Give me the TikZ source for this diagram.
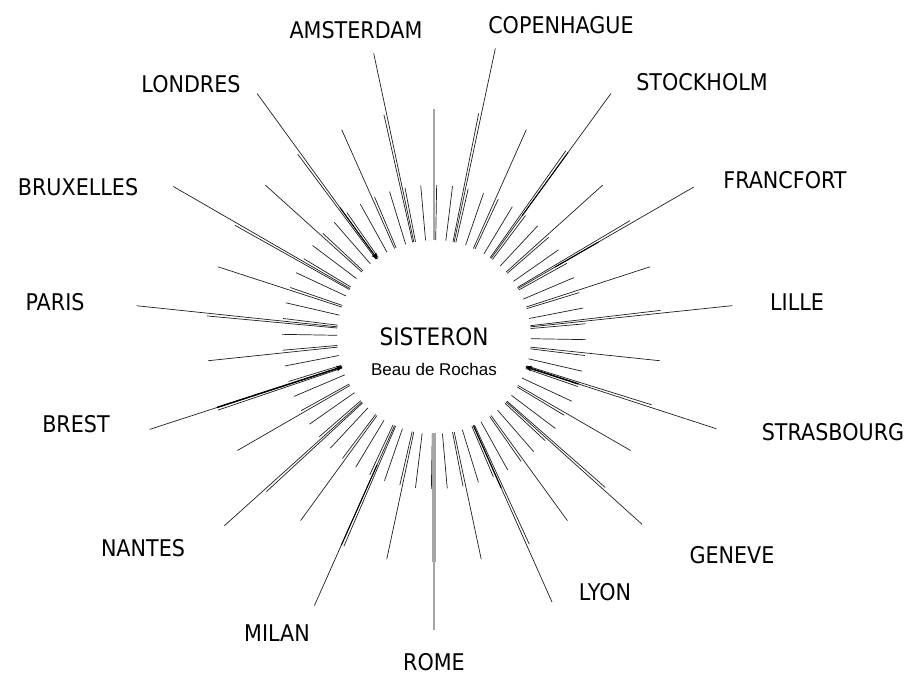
\documentclass[tikz,border=0pt]{standalone}
\usepackage{fontspec}
\setmainfont{DejaVu Sans}
\newfontfamily\townfont[FakeStretch=0.9]{DejaVu Sans}
\newfontfamily\plainfont{Liberation Sans}
\usetikzlibrary{positioning}
\definecolor{inkray}{HTML}{1E1E1E}
\definecolor{paleray}{HTML}{A6A6A6}

\begin{document}
\begin{tikzpicture}[x=1pt,y=1pt,
 ray/.style={draw=inkray,line width=0.7pt},
 heavyray/.style={draw=black,line width=1.5pt},
 greyray/.style={draw=paleray,line width=2pt},
 town/.style={font=\townfont\fontsize{23}{23}\selectfont,inner sep=0pt}]
\useasboundingbox (0,0) rectangle (913,675);
\coordinate (c) at (434,338);
% short rays, one every 6 degrees
\foreach \a in {0,6,...,354}
  \draw[ray] ([shift={({\a-1}:97)}]c) -- ([shift={({\a-1}:152)}]c);
% middle rays between two towns
\foreach \a in {-78,-54,-30,-6,18,42,66,114,138,162,186,210,234,258}
  \draw[ray] ([shift={(\a:97)}]c) -- ([shift={(\a:227)}]c);
\draw[greyray] ([shift={(90:97)}]c) -- ([shift={(90:228)}]c);
% long rays to the towns, with their second line
\foreach \a/\r in {-66/290,-42/280,-18/297,6/300,30/300,54/301,78/295,
  102/290,126/301,150/301,174/299,198/299,222/282,246/294}{
  \draw[ray] ([shift={(\a:97)}]c) -- ([shift={(\a:\r)}]c);
  \draw[ray] ([shift={({\a+0.7}:97)}]c) -- ([shift={({\a+0.7}:228)}]c);
}
\draw[greyray] ([shift={(-90:96)}]c) -- ([shift={(-90:293)}]c);
\draw[greyray,line width=3.2pt] ([shift={(-90:96)}]c) -- ([shift={(-90:225)}]c);
% heavier pieces
\draw[heavyray] ([shift={(198:97)}]c) -- ([shift={(198:228)}]c);
\draw[heavyray] ([shift={(-18:97)}]c) -- ([shift={(-18:152)}]c);
\draw[heavyray,line width=1.1pt] ([shift={(-66:97)}]c) -- ([shift={(-66:165)}]c);
\draw[heavyray,line width=1.1pt] ([shift={(30:140)}]c) -- ([shift={(30:190)}]c);
\draw[heavyray,line width=1pt] ([shift={(54:150)}]c) -- ([shift={(54:228)}]c);
\draw[heavyray,line width=1pt] ([shift={(126:97)}]c) -- ([shift={(126:160)}]c);
\draw[heavyray,line width=1pt] ([shift={(246:140)}]c) -- ([shift={(246:228)}]c);
\foreach \a in {126,198,-18}
  \fill ([shift={(\a:96)}]c) -- ([shift={({\a+1.6}:102)}]c) -- ([shift={({\a-1.6}:102)}]c) -- cycle;
% centre
\node[font=\townfont\fontsize{24}{24}\selectfont,inner sep=0pt] (sis) at (434,338) {SISTERON};
\node[font=\plainfont\fontsize{17}{17}\selectfont,inner sep=0pt] (beau) at (434,306) {Beau de Rochas};
% towns
\node[town] (ams) at (356,645) {AMSTERDAM};
\node[town] (cop) at (561,650) {COPENHAGUE};
\node[town] (sto) at (702,593) {STOCKHOLM};
\node[town] (fra) at (785,495) {FRANCFORT};
\node[town] (lil) at (797,373) {LILLE};
\node[town] (str) at (833,243) {STRASBOURG};
\node[town] (gen) at (732,120) {GENEVE};
\node[town] (lyo) at (605,83) {LYON};
\node[town] (rom) at (434,13) {ROME};
\node[town] (mil) at (277,42) {MILAN};
\node[town] (nan) at (143,127) {NANTES};
\node[town] (bre) at (76,251) {BREST};
\node[town] (par) at (55,373) {PARIS};
\node[town] (bru) at (78,488) {BRUXELLES};
\node[town] (lon) at (191,591) {LONDRES};
\end{tikzpicture}
\end{document}
